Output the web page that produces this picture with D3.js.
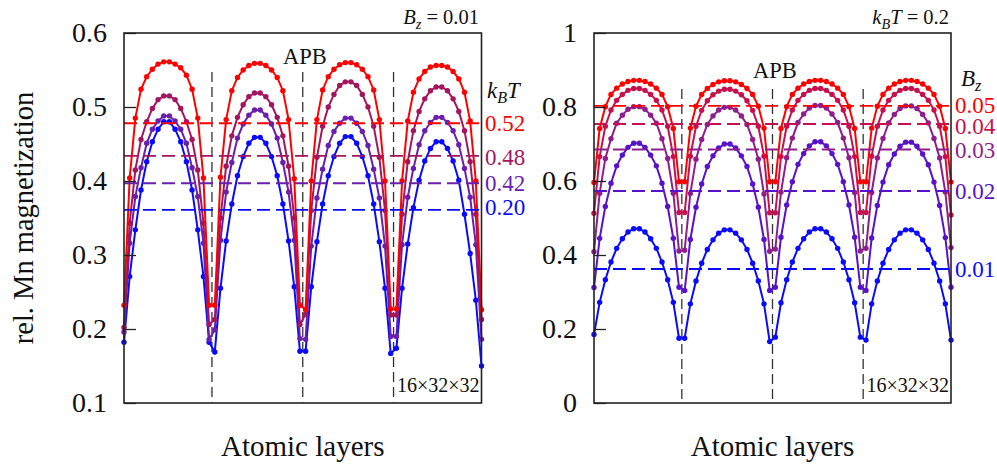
<!DOCTYPE html>
<html><head><meta charset="utf-8">
<script src="https://cdn.jsdelivr.net/npm/d3@7"></script>
<style>
body{margin:0;background:#fff}
svg{display:block}
text{font-family:"Liberation Serif","Tinos","Times New Roman",serif;fill:#111}
</style>
</head><body><svg id="c" width="997" height="467" font-family="Liberation Serif, Times New Roman, serif"></svg>
<script>
// ---------------- DATA ----------------
// 64 atomic layers, four APB domains of 16 layers each
const layerCount = 64;
const apbPositions = [15.5, 31.5, 47.5];

// Left panel: B_z = 0.01, series by k_B T
const leftTLabels = ["0.52", "0.48", "0.42", "0.20"];
const leftT052 = [
  0.232,0.404,0.485,0.524,0.541,0.551,0.558,0.561,0.561,0.558,0.553,0.543,0.524,0.485,0.404,0.232,
  0.232,0.405,0.483,0.522,0.540,0.550,0.556,0.559,0.559,0.556,0.550,0.540,0.522,0.483,0.403,0.232,
  0.226,0.400,0.483,0.523,0.541,0.551,0.557,0.560,0.560,0.557,0.551,0.541,0.523,0.483,0.400,0.227,
  0.227,0.400,0.481,0.520,0.538,0.548,0.554,0.556,0.556,0.554,0.548,0.538,0.520,0.481,0.400,0.226];
const leftT048 = [
  0.202,0.343,0.415,0.456,0.480,0.498,0.510,0.515,0.515,0.510,0.498,0.480,0.456,0.415,0.343,0.206,
  0.213,0.350,0.420,0.461,0.486,0.503,0.514,0.519,0.519,0.514,0.503,0.486,0.461,0.420,0.350,0.206,
  0.220,0.360,0.432,0.474,0.500,0.517,0.529,0.534,0.534,0.529,0.517,0.500,0.474,0.432,0.360,0.219,
  0.219,0.355,0.426,0.468,0.494,0.511,0.522,0.527,0.527,0.522,0.511,0.494,0.468,0.426,0.355,0.213];
const leftT042 = [
  0.196,0.316,0.379,0.418,0.451,0.470,0.481,0.488,0.488,0.481,0.470,0.451,0.418,0.379,0.316,0.186,
  0.199,0.320,0.385,0.425,0.458,0.477,0.489,0.496,0.496,0.489,0.477,0.458,0.425,0.385,0.320,0.187,
  0.186,0.312,0.377,0.416,0.448,0.467,0.478,0.485,0.485,0.478,0.467,0.448,0.416,0.377,0.312,0.190,
  0.190,0.314,0.378,0.417,0.449,0.468,0.479,0.486,0.486,0.479,0.468,0.449,0.417,0.378,0.314,0.186];
const leftT020 = [
  0.182,0.271,0.334,0.388,0.426,0.453,0.470,0.480,0.480,0.470,0.453,0.426,0.388,0.334,0.271,0.182,
  0.169,0.255,0.319,0.369,0.407,0.433,0.451,0.459,0.459,0.451,0.433,0.407,0.369,0.319,0.257,0.170,
  0.170,0.257,0.318,0.369,0.407,0.433,0.451,0.460,0.460,0.451,0.433,0.407,0.369,0.318,0.255,0.167,
  0.174,0.255,0.315,0.364,0.401,0.427,0.444,0.453,0.453,0.444,0.427,0.401,0.355,0.302,0.239,0.150];
const leftRefLevels = [0.478, 0.434, 0.397, 0.361];
const leftLabelLevels = [0.479, 0.432, 0.397, 0.365];
const leftTicks = [0.1, 0.2, 0.3, 0.4, 0.5, 0.6];

// Right panel: k_B T = 0.2, series by B_z
const rightBLabels = ["0.05", "0.04", "0.03", "0.02", "0.01"];
const rightB005 = [
  0.596,0.742,0.801,0.834,0.851,0.862,0.869,0.872,0.872,0.869,0.862,0.851,0.834,0.801,0.742,0.598,
  0.598,0.743,0.802,0.834,0.850,0.861,0.868,0.871,0.871,0.868,0.861,0.850,0.834,0.802,0.743,0.598,
  0.598,0.742,0.801,0.834,0.851,0.862,0.869,0.872,0.872,0.869,0.862,0.851,0.834,0.801,0.742,0.598,
  0.598,0.743,0.802,0.834,0.851,0.862,0.869,0.872,0.872,0.869,0.862,0.851,0.834,0.802,0.742,0.597];
const rightB004 = [
  0.513,0.666,0.748,0.792,0.818,0.834,0.845,0.850,0.850,0.845,0.834,0.818,0.792,0.748,0.666,0.515,
  0.515,0.667,0.748,0.791,0.817,0.833,0.843,0.848,0.848,0.843,0.833,0.817,0.791,0.748,0.667,0.514,
  0.514,0.666,0.748,0.792,0.818,0.834,0.845,0.850,0.850,0.845,0.834,0.818,0.792,0.748,0.666,0.515,
  0.515,0.667,0.748,0.792,0.818,0.834,0.845,0.850,0.850,0.845,0.834,0.818,0.792,0.748,0.666,0.508];
const rightB003 = [
  0.409,0.567,0.661,0.714,0.756,0.778,0.794,0.801,0.801,0.794,0.778,0.756,0.714,0.661,0.567,0.411,
  0.413,0.566,0.659,0.712,0.753,0.776,0.792,0.799,0.799,0.792,0.776,0.753,0.712,0.659,0.565,0.410,
  0.416,0.570,0.663,0.716,0.758,0.781,0.797,0.804,0.804,0.797,0.781,0.758,0.716,0.663,0.569,0.411,
  0.418,0.569,0.662,0.715,0.757,0.780,0.796,0.803,0.803,0.796,0.780,0.757,0.715,0.662,0.570,0.420];
const rightB002 = [
  0.312,0.445,0.531,0.594,0.641,0.670,0.691,0.702,0.702,0.691,0.670,0.641,0.594,0.531,0.445,0.313,
  0.304,0.442,0.529,0.592,0.639,0.668,0.689,0.700,0.700,0.689,0.668,0.639,0.592,0.529,0.442,0.304,
  0.313,0.448,0.535,0.598,0.645,0.674,0.695,0.706,0.706,0.695,0.674,0.645,0.598,0.535,0.448,0.313,
  0.304,0.446,0.534,0.597,0.644,0.673,0.694,0.705,0.705,0.694,0.673,0.644,0.597,0.534,0.447,0.313];
const rightB001 = [
  0.185,0.272,0.333,0.381,0.418,0.444,0.462,0.471,0.471,0.462,0.444,0.418,0.381,0.333,0.272,0.175,
  0.175,0.268,0.330,0.378,0.415,0.441,0.459,0.468,0.468,0.459,0.441,0.415,0.378,0.330,0.268,0.166,
  0.178,0.271,0.333,0.381,0.418,0.444,0.462,0.471,0.471,0.462,0.444,0.418,0.381,0.333,0.271,0.178,
  0.170,0.268,0.330,0.378,0.415,0.441,0.459,0.468,0.468,0.459,0.441,0.415,0.378,0.330,0.268,0.170];
const rightRefLevels = [0.803, 0.754, 0.685, 0.573, 0.362];
const rightLabelLevels = [0.806, 0.750, 0.683, 0.573, 0.362];
const rightTicks = [0, 0.2, 0.4, 0.6, 0.8, 1];

// ---------------- STYLE / LAYOUT ----------------
const leftColors = ["#ff0000", "#a3165f", "#6a1fae", "#0a0aff"];
const rightColors = ["#ff0000", "#c8104f", "#8e1e8e", "#5812cc", "#0a0aff"];
const TOP = 33, BOT = 403;
const SERIF = '"Liberation Serif","Tinos","Times New Roman",serif';

const svg = d3.select("#c");
svg.append("rect").attr("width", 997).attr("height", 467).attr("fill", "#fff");

function drawPanel(cfg) {
  const x = d3.scaleLinear().domain([0, layerCount - 1]).range([cfg.x0, cfg.x1]);
  const y = d3.scaleLinear().domain(cfg.yDomain).range([BOT, TOP]);
  const g = svg.append("g");

  // APB vertical dashed lines
  g.selectAll("line.apb").data(apbPositions).join("line")
    .attr("x1", d => x(d)).attr("x2", d => x(d))
    .attr("y1", cfg.apbTopY).attr("y2", BOT)
    .attr("stroke", "#333").attr("stroke-width", 1.3)
    .attr("stroke-dasharray", "10,5");

  // series (blue first, red on top)
  const line = d3.line().x((d, i) => x(i)).y(d => y(d));
  const order = cfg.series.map((s, i) => i).reverse();
  order.forEach(k => {
    const s = cfg.series[k], col = cfg.colors[k];
    g.append("path").datum(s).attr("d", line)
      .attr("fill", "none").attr("stroke", col).attr("stroke-width", 2);
    g.append("g").selectAll("circle").data(s).join("circle")
      .attr("cx", (d, i) => x(i)).attr("cy", d => y(d)).attr("r", 2.7)
      .attr("fill", col);
  });

  // reference dashed lines
  cfg.refLevels.forEach((v, k) => {
    g.append("line").attr("x1", cfg.x0).attr("x2", cfg.x1)
      .attr("y1", y(v)).attr("y2", y(v))
      .attr("stroke", cfg.colors[k]).attr("stroke-width", 1.9)
      .attr("stroke-dasharray", "13,6");
  });

  // legend labels
  cfg.labels.forEach((t, k) => {
    g.append("text").attr("x", cfg.labelX).attr("y", y(cfg.labelLevels[k]))
      .attr("dy", "0.35em").attr("font-size", 23).attr("font-family", SERIF)
      .style("fill", cfg.colors[k]).text(t);
  });

  // axis
  const axis = d3.axisLeft(y).tickValues(cfg.ticks).tickFormat(cfg.fmt)
    .tickSizeInner(-12).tickSizeOuter(0).tickPadding(17);
  const ag = g.append("g").attr("transform", `translate(${cfg.x0},0)`).call(axis);
  ag.select(".domain").remove();
  ag.selectAll(".tick line").attr("stroke", "#222").attr("stroke-width", 1.3);
  ag.selectAll(".tick text").attr("font-size", 28)
    .attr("font-family", SERIF).style("fill", "#111");

  // frame
  g.append("rect").attr("x", cfg.x0).attr("y", TOP)
    .attr("width", cfg.x1 - cfg.x0).attr("height", BOT - TOP)
    .attr("fill", "none").attr("stroke", "#222").attr("stroke-width", 1.6);

  // APB label
  g.append("text").attr("x", cfg.apbLabelX).attr("y", cfg.apbLabelY)
    .attr("text-anchor", "middle").attr("font-size", 22.5).attr("font-family", SERIF).text("APB");

  // system size
  g.append("text").attr("x", cfg.x1 - 2).attr("y", 392)
    .attr("text-anchor", "end").attr("font-size", 20).attr("font-family", SERIF).text("16×32×32");

  // x title
  g.append("text").attr("x", (cfg.x0 + cfg.x1) / 2).attr("y", 456)
    .attr("text-anchor", "middle").attr("font-size", 29).attr("font-family", SERIF).text("Atomic layers");
  return {x, y};
}

drawPanel({
  x0: 124, x1: 481.5, yDomain: [0.1, 0.6], ticks: leftTicks,
  fmt: d3.format(".1f"),
  series: [leftT052, leftT048, leftT042, leftT020], colors: leftColors,
  refLevels: leftRefLevels, labels: leftTLabels, labelLevels: leftLabelLevels,
  labelX: 485, apbTopY: 72, apbLabelX: 305, apbLabelY: 64
});
drawPanel({
  x0: 594, x1: 951, yDomain: [0, 1], ticks: rightTicks,
  fmt: d => (d === 0 || d === 1) ? String(d) : d.toFixed(1),
  series: [rightB005, rightB004, rightB003, rightB002, rightB001], colors: rightColors,
  refLevels: rightRefLevels, labels: rightBLabels, labelLevels: rightLabelLevels,
  labelX: 955, apbTopY: 89, apbLabelX: 775, apbLabelY: 78
});

// Y title
svg.append("text").attr("transform", "translate(33,218) rotate(-90)")
  .attr("text-anchor", "middle").attr("font-size", 28.5).attr("font-family", SERIF)
  .text("rel. Mn magnetization");

// headers with sub-scripts
function subText(x, y, anchor, size, parts) {
  const t = svg.append("text").attr("x", x).attr("y", y).attr("text-anchor", anchor)
    .attr("font-size", size).attr("font-family", SERIF);
  parts.forEach(p => {
    const ts = t.append("tspan").text(p.t);
    if (p.i) ts.attr("font-style", "italic");
    if (p.s) ts.attr("font-size", size * 0.7);
    if (p.dy) ts.attr("dy", p.dy);
  });
}
subText(479, 24, "end", 20.5, [{t: "B", i: 1}, {t: "z", i: 1, s: 1, dy: 5}, {t: " = 0.01", dy: -5}]);
subText(949, 24, "end", 20.5, [{t: "k", i: 1}, {t: "B", i: 1, s: 1, dy: 5}, {t: "T", i: 1, dy: -5}, {t: " = 0.2"}]);
subText(487, 98, "start", 23, [{t: "k", i: 1}, {t: "B", i: 1, s: 1, dy: 5}, {t: "T", i: 1, dy: -5}]);
subText(961, 86, "start", 23, [{t: "B", i: 1}, {t: "z", i: 1, s: 1, dy: 5}]);
</script>
</body></html>
